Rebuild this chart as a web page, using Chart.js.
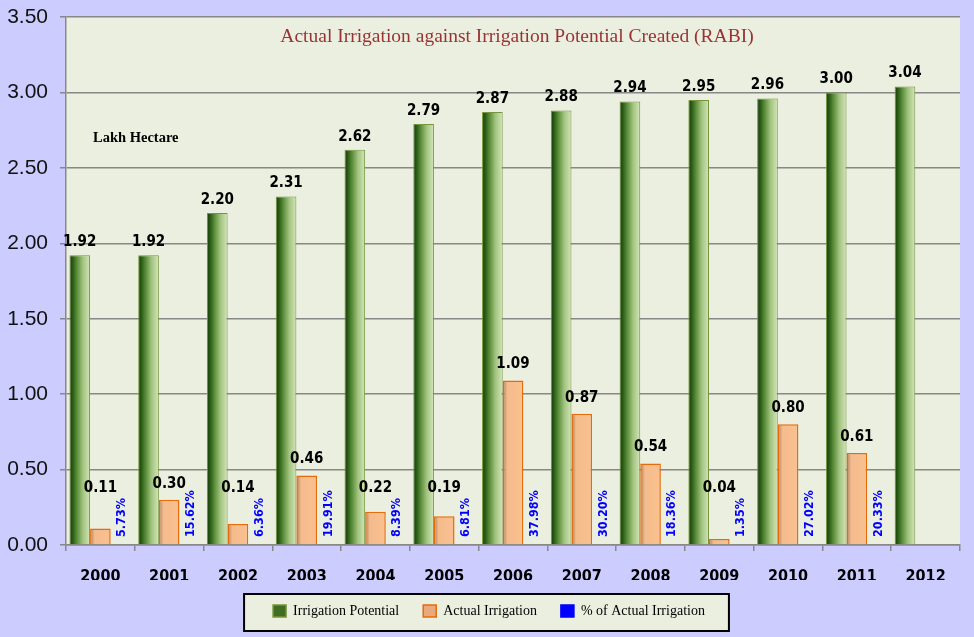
<!DOCTYPE html>
<html><head><meta charset="utf-8">
<script src="https://cdn.jsdelivr.net/npm/chart.js@4/dist/chart.umd.min.js"></script>
<style>html,body{margin:0;padding:0;background:#CCCCFF;}</style>
</head><body>
<canvas id="c" width="974" height="637"></canvas>
<script>
const years = ['2000','2001','2002','2003','2004','2005','2006','2007','2008','2009','2010','2011','2012'];
const irrigationPotential = [1.92,1.92,2.20,2.31,2.62,2.79,2.87,2.88,2.94,2.95,2.96,3.00,3.04];
const actualIrrigation = [0.11,0.30,0.14,0.46,0.22,0.19,1.09,0.87,0.54,0.04,0.80,0.61,null];
const percentActual = [5.73,15.62,6.36,19.91,8.39,6.81,37.98,30.20,18.36,1.35,27.02,20.33,null];
const seriesNames = ['Irrigation Potential','Actual Irrigation','% of Actual Irrigation'];
const titleText = 'Actual Irrigation against Irrigation Potential Created (RABI)';
const unitText = 'Lakh Hectare';

const CAT_PCT = 0.9, BAR_PCT = 1.0;
const PLOT_BG = '#EBEFDF';
const PAGE_BG = '#CCCCFF';
const LEGEND_SHIFT = 9;

function barLeft(chart, ds, i) {
  const x = chart.scales.x;
  if (!chart.chartArea || !x || !x.width) return null;
  const center = x.getPixelForValue(i);
  const catW = x.width / years.length;
  const groupW = catW * CAT_PCT;
  const slot = groupW / 3;
  const w = slot * BAR_PCT;
  return {left: center - groupW / 2 + ds * slot + (slot - w) / 2, w};
}
function greenFill(ctx) {
  const g = barLeft(ctx.chart, 0, ctx.dataIndex);
  if (!g) return '#4f7a28';
  const gr = ctx.chart.ctx.createLinearGradient(g.left, 0, g.left + g.w, 0);
  gr.addColorStop(0, '#173a0c');
  gr.addColorStop(0.15, '#285a14');
  gr.addColorStop(0.35, '#578a37');
  gr.addColorStop(0.65, '#a2c47f');
  gr.addColorStop(1, '#d4e6bc');
  return gr;
}
function orangeFill(ctx) {
  const g = barLeft(ctx.chart, 1, ctx.dataIndex);
  if (!g) return '#FAC090';
  const gr = ctx.chart.ctx.createLinearGradient(g.left, 0, g.left + g.w, 0);
  gr.addColorStop(0, '#a97a58');
  gr.addColorStop(0.22, '#f4bb8c');
  gr.addColorStop(1, '#FAC090');
  return gr;
}

const decor = {
  id: 'decor',
  afterUpdate(chart) {
    const lg = chart.legend;
    if (!lg) return;
    lg.left += LEGEND_SHIFT; lg.right += LEGEND_SHIFT;
    (lg.legendHitBoxes || []).forEach(h => { h.left += LEGEND_SHIFT; });
  },
  beforeDraw(chart) {
    const c = chart.ctx, a = chart.chartArea;
    c.save();
    c.fillStyle = PAGE_BG;
    c.fillRect(0, 0, chart.width, chart.height);
    c.fillStyle = PLOT_BG;
    c.fillRect(a.left, a.top, a.right - a.left, a.bottom - a.top);
    const hb = chart.legend && chart.legend.legendHitBoxes;
    if (hb && hb.length) {
      const l = hb[0].left - 29, r = hb[hb.length - 1].left + hb[hb.length - 1].width + 24;
      const t = hb[0].top - 10, b = hb[0].top + hb[0].height + 13;
      c.fillStyle = PLOT_BG;
      c.fillRect(l, t, r - l, b - t);
      c.lineWidth = 2;
      c.strokeStyle = '#000';
      c.strokeRect(l, t, r - l, b - t);
    }
    c.restore();
  },
  afterDatasetsDraw(chart) {
    const c = chart.ctx, a = chart.chartArea, y = chart.scales.y;
    c.save();
    // title
    c.fillStyle = '#993333';
    c.font = '19.5px "Liberation Serif", serif';
    c.textAlign = 'center';
    c.textBaseline = 'middle';
    c.fillText(titleText, (a.left + a.right) / 2 + 4, 37);
    c.fillStyle = '#000';
    c.font = 'bold 14.5px "Liberation Serif", serif';
    c.textAlign = 'left';
    c.fillText(unitText, 93, 138);
    // value labels
    c.textAlign = 'center';
    c.font = 'bold 15px "DejaVu Sans Condensed", "DejaVu Sans", sans-serif';
    c.fillStyle = '#000';
    const m0 = chart.getDatasetMeta(0), m1 = chart.getDatasetMeta(1), m2 = chart.getDatasetMeta(2);
    m0.data.forEach((el, i) => {
      if (irrigationPotential[i] == null) return;
      c.fillText(irrigationPotential[i].toFixed(2), el.x, el.y - 13);
    });
    const floorY = y.getPixelForValue(0) - 57;
    m1.data.forEach((el, i) => {
      if (actualIrrigation[i] == null) return;
      c.fillText(actualIrrigation[i].toFixed(2), el.x, Math.min(el.y - 16, floorY));
    });
    c.fillStyle = '#0000FF';
    c.font = 'bold 12.5px "DejaVu Sans Condensed", "DejaVu Sans", sans-serif';
    c.textAlign = 'left';
    m2.data.forEach((el, i) => {
      if (percentActual[i] == null) return;
      c.save();
      c.translate(el.x + 1, y.getPixelForValue(0) - 8);
      c.rotate(-Math.PI / 2);
      c.fillText(percentActual[i].toFixed(2) + '%', 0, 0);
      c.restore();
    });
    c.restore();
  }
};

new Chart(document.getElementById('c'), {
  type: 'bar',
  data: {
    labels: years,
    datasets: [
      {label: seriesNames[0], data: irrigationPotential, backgroundColor: greenFill, borderColor: '#77933C', borderWidth: 1,
       categoryPercentage: CAT_PCT, barPercentage: BAR_PCT},
      {label: seriesNames[1], data: actualIrrigation, backgroundColor: orangeFill, borderColor: '#E46C0A', borderWidth: 1.5,
       categoryPercentage: CAT_PCT, barPercentage: BAR_PCT},
      {label: seriesNames[2], data: percentActual, yAxisID: 'yPct', backgroundColor: 'rgba(0,0,255,0)', borderWidth: 0,
       categoryPercentage: CAT_PCT, barPercentage: BAR_PCT}
    ]
  },
  options: {
    responsive: false,
    animation: false,
    devicePixelRatio: 1,
    layout: {padding: {top: 17, right: 14, left: 0, bottom: 9}},
    plugins: {
      tooltip: {enabled: false},
      title: {display: false},
      legend: {
        position: 'bottom',
        labels: {
          font: {family: '"Liberation Serif", serif', size: 14},
          color: '#111',
          boxWidth: 13, boxHeight: 12,
          padding: 24,
          generateLabels() {
            const fills = ['#3f6e22', '#e9a97a', '#0000FF'];
            const strokes = ['#77933C', '#E46C0A', '#0000FF'];
            return seriesNames.map((n, i) => ({text: n, fillStyle: fills[i], strokeStyle: strokes[i], lineWidth: 1.5, datasetIndex: i, hidden: false}));
          }
        }
      }
    },
    scales: {
      x: {
        grid: {offset: true, drawOnChartArea: false, drawTicks: true, tickLength: 6, color: '#888', lineWidth: 1.5},
        border: {color: '#888', width: 1.5},
        ticks: {font: {family: '"DejaVu Sans Condensed", "DejaVu Sans", sans-serif', size: 16, weight: 'bold'}, color: '#000', padding: 16, maxRotation: 0},
        afterFit(s) { s.height = 35; s.paddingLeft = 0; s.paddingRight = 0; }
      },
      y: {
        min: 0, max: 3.5,
        grid: {color: '#888', lineWidth: 1.5, tickLength: 6},
        border: {color: '#888', width: 1.5},
        ticks: {stepSize: 0.5, font: {family: '"Liberation Sans", Arial, sans-serif', size: 21}, color: '#111', padding: 12,
                callback: v => Number(v).toFixed(2)},
        afterFit(s) { s.width = 66; s.paddingTop = 0; s.paddingBottom = 0; }
      },
      yPct: {display: false, min: 0, max: 100000}
    }
  },
  plugins: [decor]
});
</script>
</body></html>
